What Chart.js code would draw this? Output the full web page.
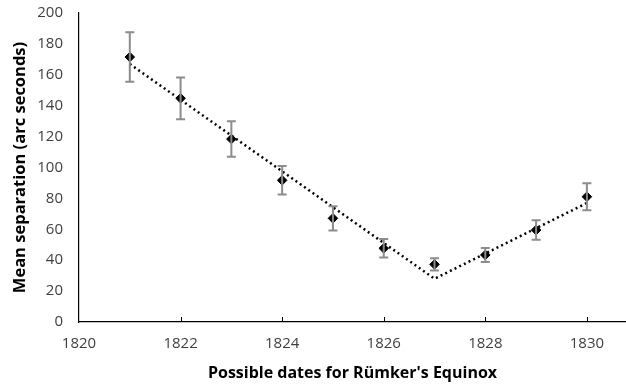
<!DOCTYPE html>
<html>
<head>
<meta charset="utf-8">
<script src="https://cdn.jsdelivr.net/npm/chart.js@4/dist/chart.umd.min.js"></script>
<style>
  html, body { margin: 0; padding: 0; background: #fff; }
  #wrap { width: 626px; height: 387px; position: relative; }
</style>
</head>
<body>
<div id="wrap"><canvas id="equinoxChart"></canvas></div>
<script>
// values
const years = [1821, 1822, 1823, 1824, 1825, 1826, 1827, 1828, 1829, 1830];
const meanSep = [171.5, 144.8, 118.4, 91.7, 67.1, 47.7, 37.3, 43.4, 59.5, 81.1];
const errSep = [16, 13.5, 11.5, 9.2, 7.8, 6, 4, 4.5, 6.3, 8.7];
const trendYears = [1821, 1827, 1830];
const trendSep = [167, 28, 77];
const xTicks = [1820, 1822, 1824, 1826, 1828, 1830];

// grey error bars with caps
const errorBars = {
    id: 'errorBars',
    afterDatasetsDraw(chart) {
        const ctx = chart.ctx;
        const x = chart.scales.x, y = chart.scales.y;
        ctx.save();
        ctx.strokeStyle = '#8c8c8c';
        ctx.lineWidth = 2;
        years.forEach(function(yr, i) {
            const px = x.getPixelForValue(yr);
            const top = y.getPixelForValue(meanSep[i] + errSep[i]);
            const bot = y.getPixelForValue(meanSep[i] - errSep[i]);
            ctx.beginPath();
            ctx.moveTo(px, top); ctx.lineTo(px, bot);
            ctx.moveTo(px - 4.5, top); ctx.lineTo(px + 4.5, top);
            ctx.moveTo(px - 4.5, bot); ctx.lineTo(px + 4.5, bot);
            ctx.stroke();
        });
        ctx.restore();
    }
};

// short tick marks pointing up from the x axis
const innerTicks = {
    id: 'innerTicks',
    afterDraw(chart) {
        const ctx = chart.ctx;
        const x = chart.scales.x, y = chart.scales.y;
        const base = y.getPixelForValue(0);
        ctx.save();
        ctx.strokeStyle = '#000';
        ctx.lineWidth = 1;
        xTicks.slice(1).forEach(function(v) {
            const px = Math.round(x.getPixelForValue(v)) + 0.5;
            ctx.beginPath();
            ctx.moveTo(px, base);
            ctx.lineTo(px, base - 5);
            ctx.stroke();
        });
        ctx.restore();
    }
};

function noPad(axis) {
    axis.paddingTop = 0;
    axis.paddingBottom = 0;
    axis.paddingLeft = 0;
    axis.paddingRight = 0;
}

document.addEventListener('DOMContentLoaded', function() {
    const ctx = document.getElementById('equinoxChart').getContext('2d');
    new Chart(ctx, {
        type: 'scatter',
        data: {
            datasets: [{
                label: 'Trend',
                type: 'line',
                data: trendYears.map((v, i) => ({ x: v, y: trendSep[i] })),
                borderColor: '#000',
                borderWidth: 2.5,
                borderDash: [2, 3.2],
                borderCapStyle: 'butt',
                pointRadius: 0,
                fill: false,
                order: 2
            }, {
                label: 'Mean separation',
                data: years.map((v, i) => ({ x: v, y: meanSep[i] })),
                backgroundColor: '#000',
                borderColor: '#000',
                pointStyle: 'rectRot',
                pointRadius: 4.8,
                order: 1
            }]
        },
        options: {
            responsive: true,
            maintainAspectRatio: false,
            animation: false,
            layout: { autoPadding: false, padding: { top: 13, right: 0, left: 0, bottom: 0 } },
            scales: {
                x: {
                    type: 'linear',
                    min: 1820,
                    max: 1830.77,
                    afterBuildTicks: function(axis) {
                        axis.ticks = xTicks.map(v => ({ value: v }));
                    },
                    afterFit: function(axis) { axis.height = 65; noPad(axis); },
                    grid: { display: false, drawTicks: false },
                    border: { color: '#000', width: 1.2 },
                    ticks: {
                        padding: 13,
                        color: '#3f3f3f',
                        font: { family: 'Open Sans', size: 15 },
                        maxRotation: 0,
                        callback: v => String(v)
                    },
                    title: {
                        display: true,
                        text: "Possible dates for Rümker's Equinox",
                        color: '#000',
                        font: { family: 'Open Sans', size: 16, weight: 'bold' },
                        padding: { top: 0, bottom: 3.5 }
                    }
                },
                y: {
                    min: 0,
                    max: 200,
                    afterFit: function(axis) { axis.width = 79; noPad(axis); },
                    grid: { display: false, drawTicks: false },
                    border: { color: '#000', width: 1.2 },
                    ticks: {
                        stepSize: 20,
                        padding: 16,
                        color: '#3f3f3f',
                        font: { family: 'Open Sans', size: 15 }
                    },
                    title: {
                        display: true,
                        text: 'Mean separation (arc seconds)',
                        color: '#000',
                        font: { family: 'Open Sans', size: 16.5, weight: 'bold' },
                        padding: { top: 10.5, bottom: 0 }
                    }
                }
            },
            plugins: {
                legend: { display: false },
                tooltip: { enabled: false }
            }
        },
        plugins: [errorBars, innerTicks]
    });
});
</script>
</body>
</html>
